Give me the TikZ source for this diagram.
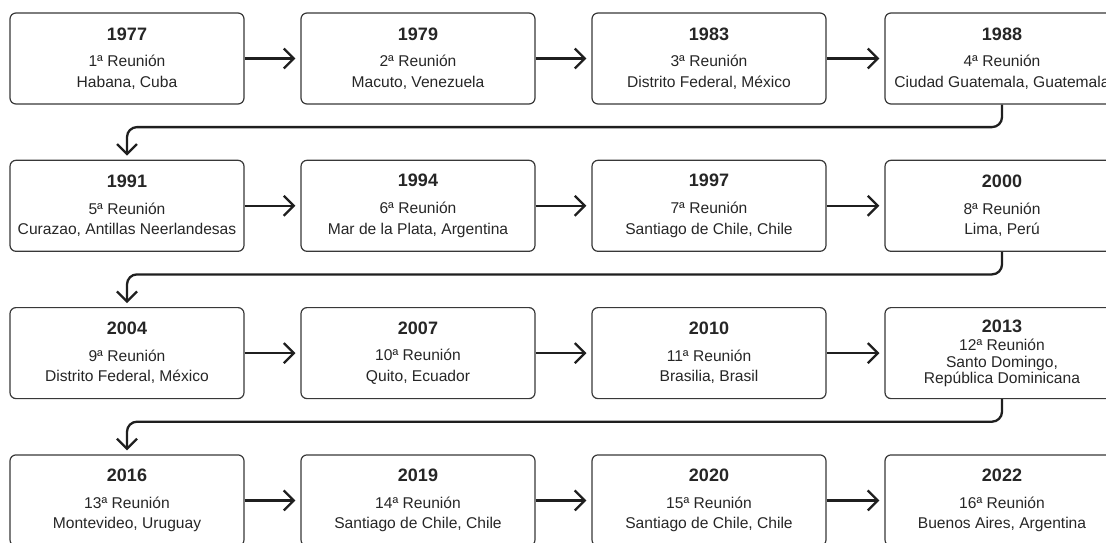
\documentclass[tikz,border=0pt]{standalone}
\usepackage{fontspec}
\setmainfont{Liberation Sans}
\usepackage{tikz}
\usetikzlibrary{arrows.meta}
\colorlet{bordecol}{black!78}
\colorlet{lineacol}{black!88}
\tikzstyle{evento}=[draw=bordecol,line width=1.2pt,rounded corners=6pt,
  minimum width=234pt,minimum height=91pt,align=center,inner sep=0pt,
  font=\fontsize{15.6}{20.6}\selectfont,text=black!85]
\tikzstyle{flecha}=[lineacol,line width=2.3pt,-{Straight Barb[length=10pt,width=20pt,line width=2.3pt]}]
\tikzstyle{giro}=[flecha,rounded corners=10pt]
\newcommand{\anio}[1]{{\fontsize{18}{20}\selectfont\bfseries #1}\\[6pt]}

\begin{document}
\begin{tikzpicture}[x=1pt,y=1pt]
  \useasboundingbox (0,0) rectangle (1106,-542);

  % fila 1
  \node[evento] (e1) at (127,-58.5) {\anio{1977}1ª Reunión\\Habana, Cuba};
  \node[evento] (e2) at (418,-58.5) {\anio{1979}2ª Reunión\\Macuto, Venezuela};
  \node[evento] (e3) at (709,-58.5) {\anio{1983}3ª Reunión\\Distrito Federal, México};
  \node[evento] (e4) at (1002,-58.5) {\anio{1988}4ª Reunión\\Ciudad Guatemala, Guatemala};

  % fila 2
  \node[evento] (e5) at (127,-205.8) {\anio{1991}5ª Reunión\\Curazao, Antillas Neerlandesas};
  \node[evento] (e6) at (418,-205.8) {\anio{1994}6ª Reunión\\Mar de la Plata, Argentina};
  \node[evento] (e7) at (709,-205.8) {\anio{1997}7ª Reunión\\Santiago de Chile, Chile};
  \node[evento] (e8) at (1002,-205.8) {\anio{2000}8ª Reunión\\Lima, Perú};

  % fila 3
  \node[evento] (e9) at (127,-353.1) {\anio{2004}9ª Reunión\\Distrito Federal, México};
  \node[evento] (e10) at (418,-353.1) {\anio{2007}10ª Reunión\\Quito, Ecuador};
  \node[evento] (e11) at (709,-353.1) {\anio{2010}11ª Reunión\\Brasilia, Brasil};
  \node[evento,font=\fontsize{15.6}{16.5}\selectfont] (e12) at (1002,-353.1)
    {{\fontsize{18}{20}\selectfont\bfseries 2013}\\[2pt]12ª Reunión\\Santo Domingo,\\República Dominicana};

  % fila 4
  \node[evento] (e13) at (127,-500.4) {\anio{2016}13ª Reunión\\Montevideo, Uruguay};
  \node[evento] (e14) at (418,-500.4) {\anio{2019}14ª Reunión\\Santiago de Chile, Chile};
  \node[evento] (e15) at (709,-500.4) {\anio{2020}15ª Reunión\\Santiago de Chile, Chile};
  \node[evento] (e16) at (1002,-500.4) {\anio{2022}16ª Reunión\\Buenos Aires, Argentina};

  % flechas en cada fila
  \foreach \a/\b in {1/2,2/3,3/4,5/6,6/7,7/8,9/10,10/11,11/12,13/14,14/15,15/16}
    \draw[flecha] (e\a.east) -- ([xshift=-5pt]e\b.west);

  % cambios de fila
  \foreach \a/\b in {4/5,8/9,12/13}
    \draw[giro] (e\a.south) -- ++(0,-22.5) -| ([yshift=4pt]e\b.north);
\end{tikzpicture}
\end{document}
